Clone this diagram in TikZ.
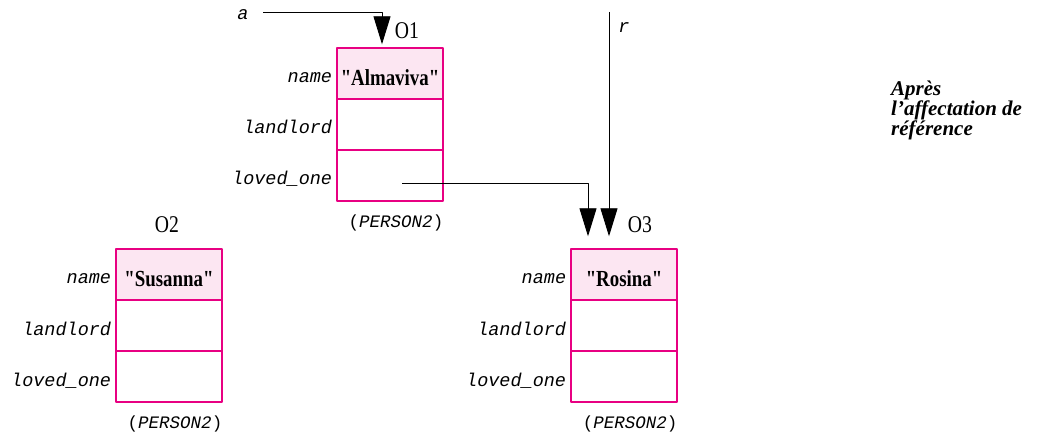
\documentclass[tikz,border=0pt]{standalone}
\usepackage{fontspec}
\setmainfont{Liberation Serif}
\setmonofont{Liberation Mono}
\newfontfamily\narrowserif[FakeStretch=0.82]{Liberation Serif}
\usetikzlibrary{arrows.meta}

\definecolor{objpink}{RGB}{232,0,130}
\definecolor{valfill}{RGB}{252,230,242}

\tikzset{
  cell/.style={draw=objpink, line width=1.4pt, minimum width=106pt, minimum height=51pt, inner sep=0pt},
  val/.style={fill=valfill, font=\fontsize{23}{24}\narrowserif\bfseries, text height=25pt, text depth=0pt},
  attr/.style={font=\fontsize{18.5}{20}\ttfamily\itshape, anchor=base east, inner sep=0pt},
  objname/.style={font=\fontsize{24}{26}\narrowserif, inner sep=0pt},
  cls/.style={font=\fontsize{17.5}{20}\ttfamily, inner sep=0pt},
  ref/.style={line width=0.9pt, -{Triangle[length=28pt,width=17pt]}},
}

\begin{document}
\begin{tikzpicture}[x=1pt, y=-1pt, line join=round]
	\useasboundingbox (0,0) rectangle (1043,435);
	% the three PERSON2 objects, one field per row
	\foreach \o/\cx/\ty/\v in {O1/390/48/Almaviva, O2/169/249/Susanna, O3/624/249/Rosina}{
		\node[cell, val] (\o-name) at (\cx,\ty+25.5) {"\v"};
		\node[cell] (\o-land) at (\cx,\ty+76.5) {};
		\node[cell] (\o-loved) at (\cx,\ty+127.5) {};
		\node[attr] at ([xshift=-4pt,yshift=-9.5pt]\o-name.west) {name};
		\node[attr] at ([xshift=-4pt,yshift=-9.5pt]\o-land.west) {landlord};
		\node[attr] at ([xshift=-4pt,yshift=-9.5pt]\o-loved.west) {loved\_one};
		\node[cls] (\o-cls) at ([xshift=6pt,yshift=-21pt]\o-loved.south) {(\textit{PERSON2})};
	}
	\node[objname] (O1-lbl) at (407,31) {O1};
	\node[objname] (O2-lbl) at (167,225) {O2};
	\node[objname] (O3-lbl) at (640,225) {O3};

	% references a and r
	\node[font=\fontsize{18.5}{20}\ttfamily\itshape, inner sep=0pt] (a) at (243,15) {a};
	\coordinate (a-start) at (263,12);
	\draw[ref] (a-start) -| ([xshift=-8pt,yshift=3pt]O1-name.north);
	\coordinate (r-start) at (609,12);
	\node[font=\fontsize{18.5}{20}\ttfamily\itshape, inner sep=0pt] (r) at (624,28) {r};
	\draw[ref] (r-start) -- ([xshift=-15pt,yshift=12pt]O3-name.north);
	\draw[ref] ([xshift=12pt,yshift=-8pt]O1-loved.center) -| ([xshift=-36pt,yshift=12pt]O3-name.north);

	\node[font=\fontsize{21}{20}\selectfont\bfseries\itshape, align=left, anchor=north west, inner sep=0pt] (note) at (891,81) {Après\\l’affectation de\\référence};
\end{tikzpicture}
\end{document}
